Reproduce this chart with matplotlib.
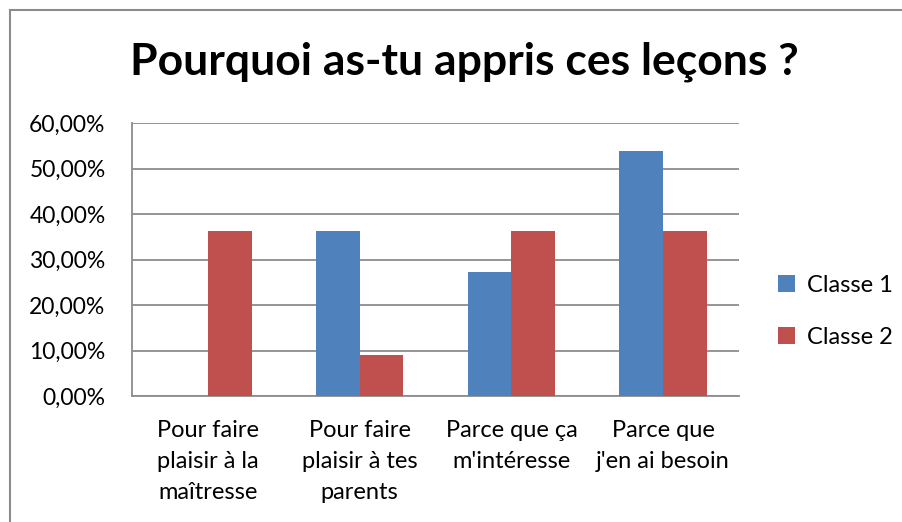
import numpy as np
import matplotlib.pyplot as plt
from matplotlib.lines import Line2D
from matplotlib.ticker import FuncFormatter

categories = ["Pour faire\nplaisir à la\nmaîtresse",
              "Pour faire\nplaisir à tes\nparents",
              "Parce que ça\nm'intéresse",
              "Parce que\nj'en ai besoin"]
classe1 = [0.0, 36.36, 27.27, 53.85]
classe2 = [36.36, 9.09, 36.36, 36.36]
series_names = ["Classe 1", "Classe 2"]

plt.rcParams['font.family'] = ['Lato', 'DejaVu Sans']

fig = plt.figure(figsize=(9.02, 5.22), dpi=100)
ax = fig.add_axes([132 / 902, 1 - 396 / 522, 607 / 902, 273 / 522])

x = np.arange(len(categories))
w = 0.2875
ax.bar(x - w / 2, classe1, w, color='#4F81BD', label=series_names[0], zorder=3)
ax.bar(x + w / 2, classe2, w, color='#C0504D', label=series_names[1], zorder=3)

ax.set_xlim(-0.5, len(categories) - 0.5)
ax.set_ylim(0, 60)
ax.set_yticks(np.arange(0, 61, 10))
ax.yaxis.set_major_formatter(FuncFormatter(lambda v, p: f"{v:.2f}%".replace('.', ',')))
ax.grid(axis='y', color='#8C8C8C', linewidth=1.3, zorder=0)
ax.set_xticks(x)
ax.set_xticklabels(categories, fontsize=17, linespacing=1.6, va='top')
ax.tick_params(axis='y', labelsize=16.5, length=0, pad=19)
ax.tick_params(axis='x', length=0, pad=17)
for s in ['top', 'right']:
    ax.spines[s].set_visible(False)
for s in ['left', 'bottom']:
    ax.spines[s].set_color('#8C8C8C')
    ax.spines[s].set_linewidth(1.3)

fig.text(0.515, 1 - 62 / 522, "Pourquoi as-tu appris ces leçons ?", fontsize=32,
         fontweight='bold', ha='center', va='center')

ax.legend(loc='center left', bbox_to_anchor=(1.03, 0.31), frameon=False,
          fontsize=17, handlelength=0.7, handleheight=0.7, labelspacing=1.3,
          handletextpad=0.5)

# chart frame (left and top edges visible)
fig.add_artist(Line2D([10 / 902, 10 / 902], [0, 1 - 10 / 522], color='#8C8C8C', lw=1.5))
fig.add_artist(Line2D([10 / 902, 1], [1 - 10 / 522, 1 - 10 / 522], color='#8C8C8C', lw=1.5))

fig.savefig('out.png', dpi=100)
